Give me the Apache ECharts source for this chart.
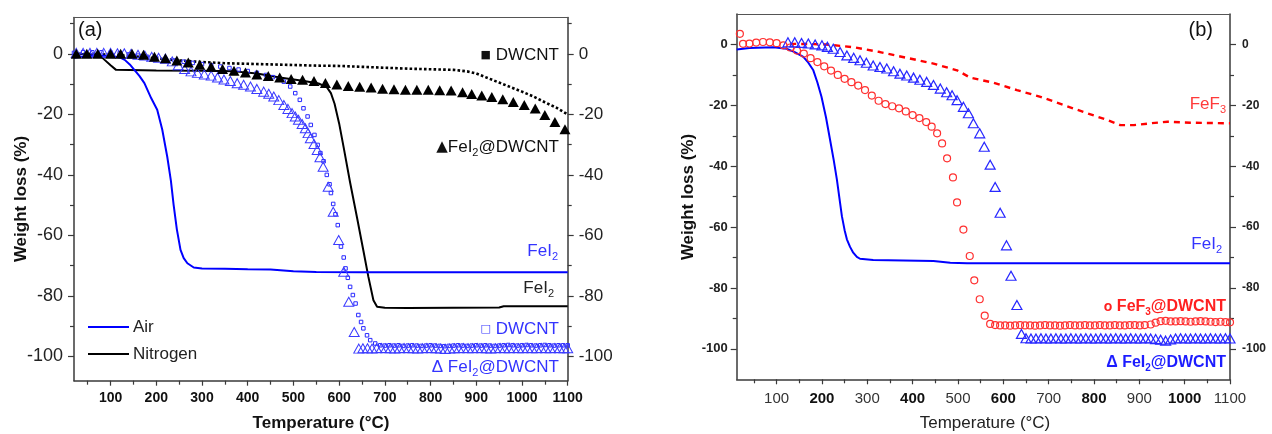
<!DOCTYPE html>
<html>
<head>
<meta charset="utf-8">
<script src="https://cdn.jsdelivr.net/npm/echarts@6/dist/echarts.min.js"></script>
<style>
html,body{margin:0;padding:0;background:#fff;}
#c{width:1272px;height:434px;}
</style>
</head>
<body>
<div id="c"></div>
<script>
// ---------- tick labels ----------
const tempTicks = [100,200,300,400,500,600,700,800,900,1000,1100];
const tempMinor = [50,150,250,350,450,550,650,750,850,950,1050];
const wTicks = [-100,-80,-60,-40,-20,0];
const wMinorA = [-90,-70,-50,-30,-10,10];
const wMinorB = [-90,-70,-50,-30,-10];

// ---------- panel (a) ----------
const aFeI2Air = [[20,-1.3],[40,-0.9],[60,-0.6],[100,-0.6],[120,-1.2],[131,-2],[142,-3.5],[152,-5.3],[163,-7.3],[174,-9.7],[189,-14.7],[202,-18.5],[213,-25],[224,-34],[232,-42],[238,-50],[245,-58],[253,-64.8],[260,-67.5],[268,-69.2],[282,-70.6],[300,-70.9],[350,-71],[400,-71.2],[450,-71.3],[500,-71.8],[550,-72.1],[650,-72.2],[1100,-72.2]];
const aFeI2N2 = [[20,0],[75,-0.3],[87,-2],[100,-3.8],[112,-5.3],[200,-5.5],[300,-5.6],[371,-5.8],[420,-6.5],[470,-7.8],[520,-8.9],[555,-9.8],[573,-11],[582,-13],[590,-16.5],[600,-23],[610,-31],[624,-42.5],[639,-54],[653,-65],[664,-73.7],[675,-81.4],[683,-83.6],[700,-83.9],[750,-84],[950,-83.8],[960,-83.4],[1100,-83.4]];
const aDwcntN2 = [[20,0],[60,0],[100,-0.3],[150,-0.8],[200,-1.5],[250,-2.2],[300,-2.7],[350,-3.1],[400,-3.3],[450,-3.5],[500,-3.7],[550,-3.9],[600,-4],[650,-4.3],[700,-4.6],[750,-4.9],[800,-5.1],[850,-5.3],[880,-5.8],[900,-6.5],[925,-8],[950,-9.5],[975,-11],[1000,-12.5],[1025,-14.1],[1050,-16],[1075,-17.8],[1100,-20]];
const aDwcntAir = [[20,0.3],[40,0.5],[60,0.5],[80,0.5],[100,0.4],[120,0.2],[140,-0.2],[160,-0.6],[180,-1],[200,-1.4],[220,-1.8],[240,-2.2],[260,-2.6],[280,-3],[300,-3.4],[320,-3.8],[340,-4.2],[360,-4.7],[380,-5.2],[400,-5.7],[420,-6.3],[440,-7],[455,-7.7],[468,-8.4],[479,-9.2],[493,-10.8],[504,-13],[514,-15.2],[522,-18],[531,-20.7],[538,-23.5],[546,-26.8],[553,-30.1],[559,-32.8],[566,-35.5],[573,-40],[579,-43.1],[582,-46],[587,-49.6],[592,-53],[597,-56.6],[604,-63.7],[610,-67.3],[614,-70.9],[619,-74],[624,-77],[630,-79.7],[636,-82.5],[642,-86.3],[648,-88.6],[653,-90.7],[661,-93],[668,-94.6],[679,-95.7],[690,-96.3],[700,-96.4],[710,-96.3],[720,-96.4],[730,-96.3],[740,-96.5],[750,-96.4],[760,-96.3],[770,-96.4],[780,-96.5],[790,-96.4],[800,-96.3],[810,-96.4],[820,-96.5],[830,-96.6],[840,-96.5],[850,-96.4],[860,-96.3],[870,-96.4],[880,-96.5],[890,-96.4],[900,-96.3],[910,-96.4],[920,-96.3],[930,-96.4],[940,-96.5],[950,-96.4],[960,-96.3],[970,-96.2],[980,-96.3],[990,-96.4],[1000,-96.3],[1010,-96.2],[1020,-96.3],[1030,-96.4],[1040,-96.3],[1050,-96.2],[1060,-96.3],[1070,-96.4],[1080,-96.3],[1090,-96.3],[1100,-96.3]];
const aFeI2DwcntN2 = [[25,0],[48,0],[72,0],[100,0],[122,0],[147,0],[172,-0.3],[196,-1],[220,-1.5],[245,-2.2],[270,-2.9],[295,-3.6],[320,-4.3],[345,-5],[370,-5.6],[395,-6.2],[420,-6.8],[445,-7.3],[470,-7.8],[495,-8.3],[520,-8.6],[545,-9],[570,-9.6],[595,-10.1],[620,-10.6],[645,-10.9],[670,-11.1],[695,-11.5],[720,-11.7],[745,-11.9],[770,-11.9],[795,-11.9],[820,-12],[845,-12.1],[870,-12.7],[890,-13.3],[912,-13.8],[934,-14.3],[958,-15],[981,-15.9],[1005,-16.9],[1029,-18.1],[1050,-20.2],[1072,-22.5],[1094,-24.9]];
const aFeI2DwcntAir = [[25,0.3],[40,0.3],[55,0.3],[70,0.3],[85,0.3],[100,0.3],[115,0.2],[130,0.2],[145,0],[160,-0.3],[175,-0.6],[190,-1],[205,-1.3],[220,-1.6],[235,-2.5],[248,-3.8],[262,-5],[276,-5.8],[290,-6.3],[305,-6.8],[320,-7.2],[334,-7.8],[348,-8.5],[362,-9],[377,-9.7],[391,-10.2],[406,-10.8],[420,-11.6],[435,-12.5],[446,-13.2],[457,-14.1],[468,-15.3],[479,-16.9],[488,-18.2],[497,-19.6],[504,-20.7],[511,-21.8],[519,-23.2],[526,-24.6],[532,-26.2],[537,-27.9],[545,-29.8],[552,-31.8],[558,-34.2],[565,-37.3],[576,-43.9],[587,-52.2],[599,-61.5],[610,-72],[621,-81.9],[633,-91.9],[643,-97.4],[652,-97.3],[662,-97.3],[672,-97.4],[682,-97.3],[692,-97.2],[702,-97.3],[712,-97.3],[722,-97.4],[732,-97.3],[742,-97.2],[752,-97.3],[762,-97.3],[772,-97.4],[782,-97.3],[792,-97.2],[802,-97.3],[812,-97.3],[822,-97.4],[832,-97.5],[842,-97.4],[852,-97.3],[862,-97.3],[872,-97.2],[882,-97.3],[892,-97.3],[902,-97.2],[912,-97.3],[922,-97.3],[932,-97.4],[942,-97.3],[952,-97.2],[962,-97.3],[972,-97.3],[982,-97.2],[992,-97.3],[1002,-97.3],[1012,-97.2],[1022,-97.3],[1032,-97.3],[1042,-97.2],[1052,-97.3],[1062,-97.3],[1072,-97.2],[1082,-97.3],[1092,-97.3],[1100,-97.3]];

// ---------- panel (b) ----------
const bFeF3 = [[130,0.2],[144,0.2],[210,0],[269,-0.9],[328,-2.5],[387,-4.4],[446,-6.3],[498,-8.5],[527,-10.9],[579,-12.6],[630,-15],[682,-17.2],[733,-19.9],[785,-22.6],[829,-24.8],[858,-26.5],[888,-26.5],[925,-25.9],[962,-25.4],[1013,-25.7],[1100,-25.9]];
const bFeI2Air = [[12,-1.7],[40,-1.2],[93,-0.9],[122,-1.4],[140,-2.5],[159,-4.1],[170,-6],[181,-8.5],[190,-12.5],[199,-17.2],[209,-24],[218,-31.4],[226,-38],[233,-44.4],[239,-51],[244,-56.4],[250,-61],[255,-64],[262,-66.5],[269,-68.4],[277,-69.8],[284,-70.4],[313,-70.8],[446,-71.1],[483,-71.7],[520,-71.9],[1100,-71.9]];
const bFeF3Dwcnt = [[19,3.5],[26,0.2],[40,0.3],[55,0.6],[70,0.8],[85,0.7],[100,0.4],[115,-0.3],[130,-1],[145,-2],[160,-3],[175,-4.5],[190,-5.8],[205,-7.2],[220,-8.6],[235,-10],[250,-11.3],[265,-12.4],[280,-13.5],[295,-15],[310,-16.8],[325,-18.5],[340,-19.6],[355,-20.3],[370,-21],[385,-22],[400,-23.2],[415,-24.2],[430,-25.5],[442,-27],[454,-29.2],[465,-32.5],[476,-37.4],[489,-43.7],[498,-51.9],[512,-60.8],[526,-69.5],[536,-77.5],[548,-83.7],[559,-89.1],[571,-91.8],[582,-92.2],[593,-92.3],[604,-92.3],[615,-92.4],[626,-92.3],[637,-92.2],[648,-92.3],[659,-92.3],[670,-92.4],[681,-92.3],[692,-92.2],[703,-92.3],[714,-92.3],[725,-92.4],[736,-92.3],[747,-92.2],[758,-92.3],[769,-92.3],[780,-92.2],[791,-92.3],[802,-92.3],[813,-92.2],[824,-92.3],[835,-92.3],[846,-92.2],[857,-92.3],[868,-92.3],[879,-92.2],[890,-92.2],[901,-92.3],[912,-92.2],[925,-92],[936,-91.4],[947,-90.9],[958,-90.8],[969,-91],[980,-91],[991,-90.9],[1002,-91],[1013,-91.1],[1024,-91],[1035,-90.9],[1046,-91],[1057,-91.1],[1068,-91.2],[1079,-91.1],[1090,-91.2],[1100,-91.3]];
const bFeI2Dwcnt = [[125,0.7],[140,0.7],[155,0.5],[170,0.3],[185,0],[200,-0.3],[212,-0.8],[225,-1.4],[240,-2.5],[255,-3.6],[270,-4.4],[284,-5.2],[298,-6],[313,-6.9],[328,-7.4],[343,-7.9],[358,-8.8],[372,-9.6],[387,-10.2],[402,-10.9],[416,-11.6],[431,-12.3],[446,-13.3],[461,-14.5],[475,-15.7],[487,-16.7],[498,-18.3],[512,-20.5],[523,-22.6],[534,-25.9],[548,-29.2],[558,-33.6],[571,-39.5],[582,-46.8],[593,-55.3],[607,-66],[617,-76],[630,-85.6],[640,-95.1],[650,-96.5],[661,-96.6],[672,-96.6],[683,-96.5],[694,-96.6],[705,-96.6],[716,-96.5],[727,-96.6],[738,-96.6],[749,-96.5],[760,-96.6],[771,-96.6],[782,-96.5],[793,-96.6],[804,-96.6],[815,-96.5],[826,-96.6],[837,-96.6],[848,-96.5],[859,-96.6],[870,-96.6],[881,-96.5],[892,-96.6],[903,-96.6],[914,-96.5],[925,-96.6],[936,-96.8],[947,-97],[958,-97.3],[969,-96.9],[980,-96.6],[991,-96.5],[1002,-96.6],[1013,-96.6],[1024,-96.5],[1035,-96.6],[1046,-96.6],[1057,-96.5],[1068,-96.6],[1079,-96.6],[1090,-96.5],[1100,-96.6]];

// ---------- styles ----------
const FF = 'Liberation Sans, Arial, sans-serif';
const AX = '#3a3a3a';
const BLUE = '#0000ff';
const TBLUE = '#3434ff';
const RED = '#ff0000';
const TRED = '#ff3a3a';

function xAxes(gi, min, labelStyle, labelMargin) {
  return [
    {gridIndex: gi, type: 'value', min: min, max: 1100, position: 'bottom',
     axisLine: {show: true, onZero: false, lineStyle: {color: AX, width: 1.5}},
     axisTick: {show: true, inside: false, length: 5, customValues: tempTicks, lineStyle: {color: AX, width: 1.2}},
     axisLabel: Object.assign({show: true, customValues: tempTicks, margin: labelMargin, fontFamily: FF,
       formatter: function (v) { return String(v); }}, labelStyle),
     splitLine: {show: false}},
    {gridIndex: gi, type: 'value', min: min, max: 1100, position: 'bottom',
     axisLine: {show: false, onZero: false}, axisLabel: {show: false}, splitLine: {show: false},
     axisTick: {show: true, inside: false, length: 4, customValues: tempMinor, lineStyle: {color: AX, width: 1.2}}},
    {gridIndex: gi, type: 'value', min: min, max: 1100, position: 'top',
     axisLine: {show: true, onZero: false, lineStyle: {color: '#555', width: 1.2}},
     axisTick: {show: false}, axisLabel: {show: false}, splitLine: {show: false}}
  ];
}
function yAxes(gi, min, max, minors, leftLabel, leftMargin, rightLabel, rightMargin) {
  const base = {gridIndex: gi, type: 'value', min: min, max: max, splitLine: {show: false}};
  return [
    Object.assign({}, base, {position: 'left',
      axisLine: {show: true, onZero: false, lineStyle: {color: AX, width: 1.5}},
      axisTick: {show: true, inside: false, length: 6, customValues: wTicks, lineStyle: {color: AX, width: 1.2}},
      axisLabel: Object.assign({show: true, customValues: wTicks, margin: leftMargin, fontFamily: FF}, leftLabel)}),
    Object.assign({}, base, {position: 'left', axisLine: {show: false, onZero: false}, axisLabel: {show: false},
      axisTick: {show: true, inside: false, length: 4, customValues: minors, lineStyle: {color: AX, width: 1.2}}}),
    Object.assign({}, base, {position: 'right',
      axisLine: {show: true, onZero: false, lineStyle: {color: AX, width: 1.5}},
      axisTick: {show: true, inside: false, length: 6, customValues: wTicks, lineStyle: {color: AX, width: 1.2}},
      axisLabel: Object.assign({show: true, customValues: wTicks, margin: rightMargin, fontFamily: FF}, rightLabel)}),
    Object.assign({}, base, {position: 'right', axisLine: {show: false, onZero: false}, axisLabel: {show: false},
      axisTick: {show: true, inside: false, length: 4, customValues: minors, lineStyle: {color: AX, width: 1.2}}})
  ];
}

function lineS(xi, yi, data, color, width, type) {
  return {type: 'line', xAxisIndex: xi, yAxisIndex: yi, data: data, showSymbol: false, symbol: 'none',
    lineStyle: {color: color, width: width, type: type || 'solid'}, itemStyle: {color: color}, animation: false, z: 3};
}
function scatS(xi, yi, data, symbol, size, fill, stroke, bw) {
  return {type: 'scatter', xAxisIndex: xi, yAxisIndex: yi, data: data, symbol: symbol, symbolSize: size,
    itemStyle: {color: fill, borderColor: stroke, borderWidth: bw, opacity: 1}, animation: false, z: 4};
}

const richBase = (size, color, weight) => ({
  n: {fontSize: size, fill: color, fontFamily: FF, fontWeight: weight},
  s: {fontSize: Math.round(size * 0.62), fill: color, fontFamily: FF, fontWeight: weight, padding: [Math.round(size * 0.7), 0, 0, 0]}
});
function txt(x, y, text, size, color, weight, align, extraRich) {
  const rich = Object.assign(richBase(size, color, weight || 'normal'), extraRich || {});
  return {type: 'text', x: x, y: y, z: 20,
    style: {text: text, rich: rich, align: align || 'left', verticalAlign: 'middle', fill: color,
      font: (weight || 'normal') + ' ' + size + 'px ' + FF}};
}

const xA = xAxes(0, 20, {fontSize: 14, fontWeight: 'bold', color: '#111'}, 10);
const xB = xAxes(1, 12, {fontSize: 15, color: '#222',
  formatter: function (v) { return ([200,400,600,800,1000].indexOf(v) >= 0) ? '{b|' + v + '}' : '{r|' + v + '}'; },
  rich: {b: {fontSize: 15, fontWeight: 'bold', color: '#111', fontFamily: FF}, r: {fontSize: 15, color: '#333', fontFamily: FF}}}, 12);
const yA = yAxes(0, -108, 12, wMinorA, {fontSize: 18, color: '#222'}, 11, {fontSize: 17, color: '#222'}, 11);
const yB = yAxes(1, -110, 10, wMinorB, {fontSize: 13, fontWeight: 'bold', color: '#222'}, 9, {fontSize: 12, fontWeight: 'bold', color: '#222'}, 12);

const option = {
  backgroundColor: '#fff',
  animation: false,
  grid: [
    {left: 74, top: 17.5, width: 493.7, height: 363.2},
    {left: 736.7, top: 14, width: 493.3, height: 365.3}
  ],
  xAxis: xA.concat(xB),
  yAxis: yA.concat(yB),
  series: [
    lineS(0, 0, aDwcntN2, '#000', 2.6, [2.6, 2.2]),
    lineS(0, 0, aFeI2N2, '#000', 2),
    scatS(0, 0, aDwcntAir, 'rect', 3.5, 'rgba(0,0,0,0)', '#2a2aff', 1),
    scatS(0, 0, aFeI2DwcntAir, 'triangle', [10, 9], 'rgba(0,0,0,0)', '#3a3aff', 1),
    lineS(0, 0, aFeI2Air, BLUE, 2),
    scatS(0, 0, aFeI2DwcntN2, 'triangle', [11, 10], '#000', '#000', 0),

    lineS(3, 4, bFeF3, RED, 2.4, [6, 5]),
    lineS(3, 4, bFeI2Air, BLUE, 2),
    scatS(3, 4, bFeF3Dwcnt, 'circle', 7, 'rgba(0,0,0,0)', '#ff3030', 1.2),
    scatS(3, 4, bFeI2Dwcnt, 'triangle', [10, 9], 'rgba(0,0,0,0)', '#2828ff', 1.2)
  ],
  graphic: [
    // axis titles
    {type: 'text', x: 21, y: 199, rotation: Math.PI / 2, z: 20,
     style: {text: 'Weight loss (%)', font: 'bold 17px ' + FF, fill: '#111', align: 'center', verticalAlign: 'middle'}},
    {type: 'text', x: 321, y: 423, z: 20,
     style: {text: 'Temperature (°C)', font: 'bold 17px ' + FF, fill: '#111', align: 'center', verticalAlign: 'middle'}},
    {type: 'text', x: 688, y: 197, rotation: Math.PI / 2, z: 20,
     style: {text: 'Weight loss (%)', font: 'bold 17px ' + FF, fill: '#111', align: 'center', verticalAlign: 'middle'}},
    {type: 'text', x: 985, y: 423, z: 20,
     style: {text: 'Temperature (°C)', font: 'normal 17px ' + FF, fill: '#222', align: 'center', verticalAlign: 'middle'}},
    // panel labels
    {type: 'text', x: 78, y: 30, z: 20, style: {text: '(a)', font: '20px ' + FF, fill: '#111', align: 'left', verticalAlign: 'middle'}},
    {type: 'text', x: 1213, y: 30, z: 20, style: {text: '(b)', font: '20px ' + FF, fill: '#111', align: 'right', verticalAlign: 'middle'}},
    // panel (a) annotations
    txt(559, 55, '{q|■} {n|DWCNT}', 17, '#111', 'normal', 'right', {q: {fontSize: 11, fill: '#111', fontFamily: 'DejaVu Sans'}}),
    txt(559, 147, '{q|▲}{n|FeI}{s|2}{n|@DWCNT}', 17, '#111', 'normal', 'right', {q: {fontSize: 15, fill: '#111', fontFamily: 'DejaVu Sans'}}),
    txt(558, 251, '{n|FeI}{s|2}', 17, TBLUE, 'normal', 'right'),
    txt(554, 288, '{n|FeI}{s|2}', 17, '#222', 'normal', 'right'),
    txt(559, 329, '{q|□} {n|DWCNT}', 17, TBLUE, 'normal', 'right', {q: {fontSize: 11, fill: TBLUE, fontFamily: 'DejaVu Sans'}}),
    txt(559, 367, '{n|Δ FeI}{s|2}{n|@DWCNT}', 17, TBLUE, 'normal', 'right'),
    // legend
    {type: 'line', z: 20, shape: {x1: 88, y1: 327, x2: 129, y2: 327}, style: {stroke: BLUE, lineWidth: 2}},
    {type: 'line', z: 20, shape: {x1: 88, y1: 354, x2: 129, y2: 354}, style: {stroke: '#000', lineWidth: 2}},
    {type: 'text', x: 133, y: 327, z: 20, style: {text: 'Air', font: '17px ' + FF, fill: '#222', align: 'left', verticalAlign: 'middle'}},
    {type: 'text', x: 133, y: 354, z: 20, style: {text: 'Nitrogen', font: '17px ' + FF, fill: '#222', align: 'left', verticalAlign: 'middle'}},
    // panel (b) annotations
    txt(1226, 104, '{n|FeF}{s|3}', 17, TRED, 'normal', 'right'),
    txt(1222, 244, '{n|FeI}{s|2}', 17, TBLUE, 'normal', 'right'),
    txt(1226, 307, '{q|o} {n|FeF}{s|3}{n|@DWCNT}', 16, '#ff2020', 'bold', 'right', {q: {fontSize: 14, fontWeight: 'bold', fill: '#ff2020', fontFamily: FF}}),
    txt(1226, 363, '{n|Δ FeI}{s|2}{n|@DWCNT}', 16, '#1c1cff', 'bold', 'right')
  ]
};

const chart = echarts.init(document.getElementById('c'), null, {renderer: 'canvas'});
chart.setOption(option);
</script>
</body>
</html>
